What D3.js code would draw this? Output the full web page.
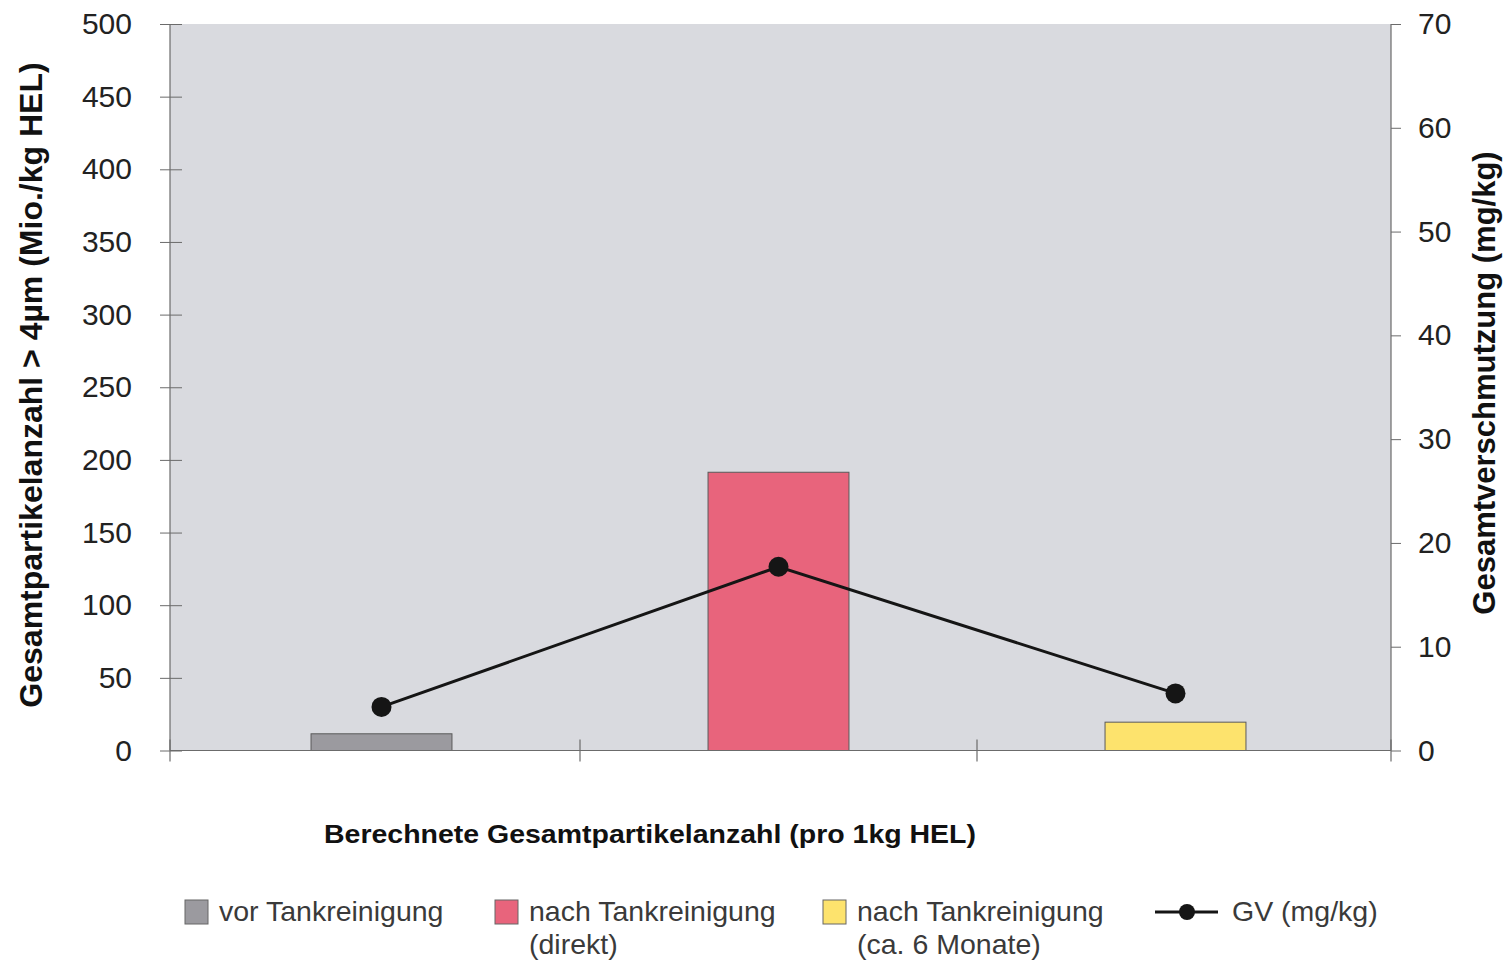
<!DOCTYPE html>
<html>
<head>
<meta charset="utf-8">
<script src="https://cdn.jsdelivr.net/npm/d3@7"></script>
<style>
  html, body { margin: 0; padding: 0; background: #ffffff; }
  svg { display: block; font-family: "Liberation Sans", Arial, sans-serif; }
</style>
</head>
<body>
<svg id="chart" width="1508" height="961"></svg>
<script>
// Categories and measured values
const categories = ["vor Tankreinigung", "nach Tankreinigung (direkt)", "nach Tankreinigung (ca. 6 Monate)"];
const particleCounts = [11.5, 191.5, 19.5];      // Mio./kg HEL (left axis)
const gvValues = [4.2, 17.7, 5.5];               // mg/kg (right axis)
const leftTicks = [0, 50, 100, 150, 200, 250, 300, 350, 400, 450, 500];
const rightTicks = [0, 10, 20, 30, 40, 50, 60, 70];
const barColors = ["#9b9a9f", "#e8647c", "#fde36d"];
const legendLines = [["vor Tankreinigung"], ["nach Tankreinigung", "(direkt)"], ["nach Tankreinigung", "(ca. 6 Monate)"]];

const svg = d3.select("#chart");

const plot = { left: 170, right: 1391, top: 24, bottom: 750.5 };

const x = d3.scaleBand().domain(categories).range([183, 1374]).padding(0);
const yL = d3.scaleLinear().domain([0, 500]).range([plot.bottom, plot.top]);
const yR = d3.scaleLinear().domain([0, 70]).range([plot.bottom, plot.top]);
const barFrac = 0.355;

// Plot background
svg.append("rect")
  .attr("x", plot.left).attr("y", plot.top)
  .attr("width", plot.right - plot.left).attr("height", plot.bottom - plot.top)
  .attr("fill", "#d9dadf");

// Bars
svg.append("g").selectAll("rect")
  .data(categories)
  .join("rect")
  .attr("x", d => x(d) + x.bandwidth() * (1 - barFrac) / 2)
  .attr("width", x.bandwidth() * barFrac)
  .attr("y", (d, i) => yL(particleCounts[i]))
  .attr("height", (d, i) => yL(0) - yL(particleCounts[i]))
  .attr("fill", (d, i) => barColors[i])
  .attr("stroke", "#5a5a5a")
  .attr("stroke-width", 1);

// Left axis
const axisColor = "#6b6b6b";
const gL = svg.append("g").attr("transform", `translate(${plot.left},0)`)
  .call(d3.axisLeft(yL).tickValues(leftTicks).tickSize(10).tickPadding(28).tickFormat(d3.format("d")));
gL.select(".domain").attr("stroke", axisColor).attr("stroke-width", 1.2).attr("d", `M0,${plot.top}V${plot.bottom}`);
gL.selectAll(".tick line").attr("stroke", axisColor).attr("x1", 12).attr("x2", -10);
gL.selectAll(".tick text").attr("fill", "#222").style("font-size", "30px").style("font-family", "Liberation Sans, Arial, sans-serif");

// Right axis
const gR = svg.append("g").attr("transform", `translate(${plot.right},0)`)
  .call(d3.axisRight(yR).tickValues(rightTicks).tickSize(10).tickPadding(17).tickFormat(d3.format("d")));
gR.select(".domain").attr("stroke", axisColor).attr("stroke-width", 1.2).attr("d", `M0,${plot.top}V${plot.bottom}`);
gR.selectAll(".tick line").attr("stroke", axisColor);
gR.selectAll(".tick text").attr("fill", "#222").style("font-size", "30px").style("font-family", "Liberation Sans, Arial, sans-serif");

// Bottom axis with ticks between categories
const boundaries = [plot.left, x(categories[1]), x(categories[2]), plot.right];
const gB = svg.append("g");
gB.append("line")
  .attr("x1", plot.left).attr("x2", plot.right)
  .attr("y1", plot.bottom).attr("y2", plot.bottom)
  .attr("stroke", axisColor).attr("stroke-width", 1.2);
gB.selectAll("line.tick")
  .data(boundaries)
  .join("line")
  .attr("class", "tick")
  .attr("x1", d => d).attr("x2", d => d)
  .attr("y1", plot.bottom - 11).attr("y2", plot.bottom + 11)
  .attr("stroke", axisColor).attr("stroke-width", 1.2);

// GV line on the right axis
const line = d3.line()
  .x((d, i) => x(categories[i]) + x.bandwidth() / 2)
  .y(d => yR(d));
svg.append("path")
  .datum(gvValues)
  .attr("d", line)
  .attr("fill", "none")
  .attr("stroke", "#151515")
  .attr("stroke-width", 3);
svg.append("g").selectAll("circle")
  .data(gvValues)
  .join("circle")
  .attr("cx", (d, i) => x(categories[i]) + x.bandwidth() / 2)
  .attr("cy", d => yR(d))
  .attr("r", 10)
  .attr("fill", "#151515");

// Axis titles
svg.append("text")
  .attr("transform", "translate(42,385) rotate(-90)")
  .attr("text-anchor", "middle")
  .style("font-size", "32px").style("font-weight", "bold").attr("fill", "#111")
  .text("Gesamtpartikelanzahl > 4µm (Mio./kg HEL)");

svg.append("text")
  .attr("transform", "translate(1495,383) rotate(-90)")
  .attr("text-anchor", "middle")
  .style("font-size", "31px").style("font-weight", "bold").attr("fill", "#111")
  .text("Gesamtverschmutzung (mg/kg)");

svg.append("text")
  .attr("x", 650).attr("y", 843)
  .attr("text-anchor", "middle")
  .attr("textLength", 652).attr("lengthAdjust", "spacingAndGlyphs")
  .style("font-size", "25.5px").style("font-weight", "bold").attr("fill", "#111")
  .text("Berechnete Gesamtpartikelanzahl (pro 1kg HEL)");

// Legend
const legendX = [185, 495, 823];
const leg = svg.append("g");
categories.forEach((c, i) => {
  const g = leg.append("g").attr("transform", `translate(${legendX[i]},900)`);
  g.append("rect").attr("x", 0).attr("y", 0).attr("width", 23).attr("height", 24)
    .attr("fill", barColors[i]).attr("stroke", "#666").attr("stroke-width", 1);
  const t = g.append("text").attr("x", 34).attr("y", 21)
    .style("font-size", "28.5px").attr("fill", "#3a3a3a");
  legendLines[i].forEach((s, j) => {
    t.append("tspan").attr("x", 34).attr("dy", j === 0 ? 0 : 33).text(s);
  });
});
const gl = leg.append("g").attr("transform", "translate(1155,912)");
gl.append("line").attr("x1", 0).attr("x2", 63).attr("y1", 0).attr("y2", 0)
  .attr("stroke", "#151515").attr("stroke-width", 3);
gl.append("circle").attr("cx", 32).attr("cy", 0).attr("r", 8).attr("fill", "#151515");
gl.append("text").attr("x", 77).attr("y", 9)
  .style("font-size", "28.5px").attr("fill", "#3a3a3a").text("GV (mg/kg)");
</script>
</body>
</html>
